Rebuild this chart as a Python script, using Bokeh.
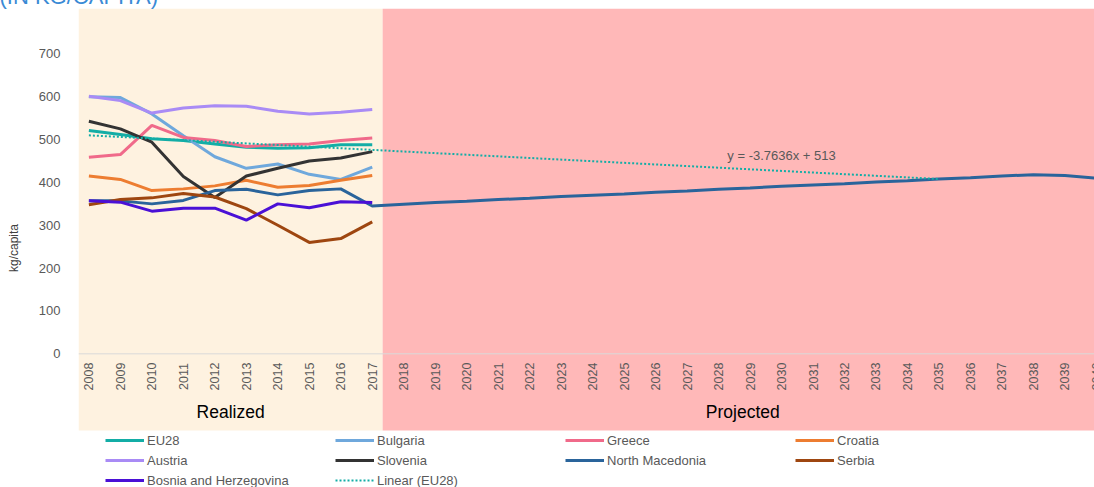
import math
from bokeh.plotting import figure
from bokeh.models import ColumnDataSource, FixedTicker, Legend, LegendItem, Span, Label, Range1d, BoxAnnotation
from bokeh.core.properties import value
from bokeh.embed import file_html
from bokeh.resources import INLINE

# ---------------- data ----------------
years_realized = [2008, 2009, 2010, 2011, 2012, 2013, 2014, 2015, 2016, 2017]
eu28 = [521, 512, 502, 498, 490, 482, 480, 481, 488, 488]
bulgaria = [600, 598, 560, 509, 460, 433, 443, 419, 407, 436]
greece = [459, 465, 533, 505, 498, 484, 488, 490, 498, 504]
croatia = [415, 407, 381, 385, 392, 405, 389, 393, 405, 416]
austria = [601, 591, 562, 574, 579, 578, 566, 560, 564, 570]
slovenia = [543, 525, 494, 414, 365, 415, 433, 450, 457, 472]
north_macedonia_realized = [357, 357, 350, 358, 381, 384, 371, 381, 385, 345]
serbia = [348, 360, 364, 374, 366, 339, 300, 260, 269, 308]
bosnia = [357, 354, 333, 340, 340, 312, 350, 341, 355, 353]

years_projected = [2018, 2019, 2020, 2021, 2022, 2023, 2024, 2025, 2026, 2027, 2028,
                   2029, 2030, 2031, 2032, 2033, 2034, 2035, 2036, 2037, 2038, 2039, 2040]
north_macedonia_projected = [349, 353, 356, 360, 363, 367, 370, 373, 377, 380, 384,
                             387, 391, 394, 397, 401, 404, 408, 411, 415, 418, 416, 410]

trend_years = [2008, 2035]
trend_values = [510, 408]
trend_equation = "y = -3.7636x + 513"

y_ticks = [0, 100, 200, 300, 400, 500, 600, 700]
x_tick_labels = ["2008", "2009", "2010", "2011", "2012", "2013", "2014", "2015", "2016", "2017",
                 "2018", "2019", "2020", "2021", "2022", "2023", "2024", "2025", "2026", "2027",
                 "2028", "2029", "2030", "2031", "2032", "2033", "2034", "2035", "2036", "2037",
                 "2038", "2039", "2040"]
phase_labels = ["Realized", "Projected"]
title_text = "(IN KG/CAPITA)"

# ---------------- figure ----------------
FONT = "Liberation Sans"
BAND_BOTTOM = -179
TOP_SHIFT = 19
p = figure(width=1094, height=487 + TOP_SHIFT, output_backend="svg", toolbar_location=None,
           x_range=Range1d(2007.67, 2039.94), y_range=Range1d(-312, 806),
           x_axis_location=None,
           min_border_left=78, min_border_right=0, min_border_top=8 + TOP_SHIFT, min_border_bottom=0)
p.styles = {"margin-top": f"-{TOP_SHIFT}px", "margin-left": "0px"}
p.outline_line_color = None
p.xgrid.visible = False
p.ygrid.visible = False
p.background_fill_color = "white"
p.border_fill_color = "white"

# title (its top is cut off by the page edge, as in the reference)
p.title.text = title_text
p.title.align = "left"
p.title.offset = -79
p.title.standoff = 0
p.title.text_font = FONT
p.title.text_font_size = "22px"
p.title.text_font_style = "normal"
p.title.text_color = "#3A8AD5"

# bands
p.add_layout(BoxAnnotation(left=2007.67, right=2017.33, bottom=BAND_BOTTOM, fill_color="#FEF2E0",
                           fill_alpha=1, line_color=None, level="underlay"))
p.add_layout(BoxAnnotation(left=2017.33, right=2041, bottom=BAND_BOTTOM, fill_color="#FFB8B8",
                           fill_alpha=1, line_color=None, level="underlay"))
p.add_layout(Span(location=0, dimension="width", line_color="#D9D9D9", line_width=1, level="underlay"))

# y axis
ax = p.yaxis[0]
ax.ticker = FixedTicker(ticks=y_ticks)
ax.axis_line_color = None
ax.major_tick_line_color = None
ax.minor_tick_line_color = None
ax.major_tick_out = 0
ax.major_tick_in = 0
ax.major_label_standoff = 18
ax.major_label_text_font = FONT
ax.major_label_text_font_size = "13px"
ax.major_label_text_color = "#595959"
ax.axis_label = "kg/capita"
ax.axis_label_text_font = FONT
ax.axis_label_text_font_size = "12px"
ax.axis_label_text_font_style = "normal"
ax.axis_label_text_color = "#404040"
ax.axis_label_standoff = 15

# x tick labels (rotated, inside the banded area)
xl_src = ColumnDataSource(dict(x=[int(s) for s in x_tick_labels], t=x_tick_labels))
p.text(x="x", y=-53, text="t", source=xl_src, angle=math.pi / 2, text_align="center",
       text_baseline="middle", text_font=value(FONT), text_font_size="12.5px", text_color="#595959")

# phase labels
p.add_layout(Label(x=2012.5, y=-135, text=phase_labels[0], text_align="center", text_baseline="middle",
                   text_font=FONT, text_font_size="17.5px", text_color="#000000"))
p.add_layout(Label(x=2028.77, y=-135, text=phase_labels[1], text_align="center", text_baseline="middle",
                   text_font=FONT, text_font_size="17.5px", text_color="#000000"))

# series
W = 3
r_eu = p.line(years_realized, eu28, line_color="#13ADA6", line_width=W)
r_bg = p.line(years_realized, bulgaria, line_color="#6FA8DC", line_width=W)
r_gr = p.line(years_realized, greece, line_color="#F06A8A", line_width=W)
r_hr = p.line(years_realized, croatia, line_color="#ED7D31", line_width=W)
r_at = p.line(years_realized, austria, line_color="#A98BF5", line_width=W)
r_si = p.line(years_realized, slovenia, line_color="#333333", line_width=W)
r_mk = p.line(years_realized + years_projected, north_macedonia_realized + north_macedonia_projected,
              line_color="#2A649B", line_width=W)
r_rs = p.line(years_realized, serbia, line_color="#9E4610", line_width=W)
r_ba = p.line(years_realized, bosnia, line_color="#4A10D6", line_width=W)
r_tr = p.line(trend_years, trend_values, line_color="#13ADA6", line_width=2, line_dash="2 2")

p.add_layout(Label(x=2030, y=463, text=trend_equation, text_align="center", text_baseline="middle",
                   text_font=FONT, text_font_size="13px", text_color="#595959"))

legend_rows = [
    [("EU28", r_eu), ("Bulgaria", r_bg), ("Greece", r_gr), ("Croatia", r_hr)],
    [("Austria", r_at), ("Slovenia", r_si), ("North Macedonia", r_mk), ("Serbia", r_rs)],
    [("Bosnia and Herzegovina", r_ba), ("Linear (EU28)", r_tr)],
]
for i, row in enumerate(legend_rows):
    lg = Legend(items=[LegendItem(label=lab, renderers=[r]) for lab, r in row],
                location=(27, 37 - 20 * i), orientation="horizontal",
                glyph_width=39, glyph_height=20, label_height=20, label_width=188, label_standoff=3,
                spacing=0, padding=0, margin=0, border_line_color=None, background_fill_alpha=0,
                label_text_font=FONT, label_text_font_size="13px", label_text_color="#595959")
    p.add_layout(lg)

open("out.html", "w").write(file_html(p, INLINE))
